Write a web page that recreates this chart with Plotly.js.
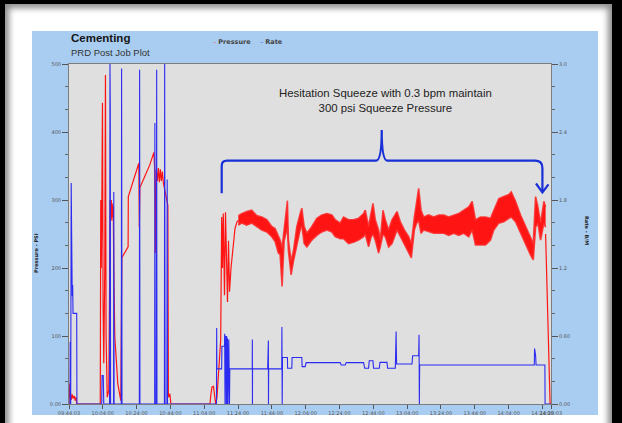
<!DOCTYPE html>
<html>
<head>
<meta charset="utf-8">
<script src="https://cdn.plot.ly/plotly-3.0.1.min.js"></script>
<style>
  html,body{margin:0;padding:0;background:#000;width:622px;height:423px;overflow:hidden;}
  .frame{position:absolute;left:5px;top:4px;width:607px;height:430px;background:#fff;box-shadow:inset 0 0 6px 4px #8c8c8c;}
  #chart{position:absolute;left:32px;top:31px;width:566px;height:384px;}
</style>
</head>
<body>
<div class="frame"></div>
<div id="chart"></div>
<script>
// ---- data (time = minutes after job start 09:44:03) ----
const jobStart = '09:44:03';
const xTickLabels = ['09:44:03','10:04:00','10:24:00','10:44:00','11:04:00','11:24:00','11:44:00','12:04:00','12:24:00','12:44:00','13:04:00','13:24:00','13:44:00','14:04:00','14:24:00','14:29:03'];
const pressureTicks = [0,100,200,300,400,500];
const pressureTickText = ['0.00','100','200','300','400','500'];
const rateTicks = [0,0.6,1.2,1.8,2.4,3.0];
const rateTickText = ['0.00','0.60','1.2','1.8','2.4','3.0'];

// pressure (psi) - single line parts
const pressureTime = [0,0.12,0.41,0.71,1.30,1.90,2.49,3.08,3.67,4.27,4.56,
 18.48,18.78,19.08,19.37,19.79,20.14,20.56,21.15,21.56,21.92,22.63,23.52,24.11,24.41,24.70,25.00,25.30,25.59,25.89,26.18,26.48,27.07,28.85,30.63,31.22,33.00,34.95,35.07,37.74,39.51,41.29,41.59,41.88,44.85,47.81,50.18,50.77,51.07,51.66,52.25,52.84,53.43,54.03,54.62,55.21,55.80,57.29,58.47,58.77,59.65,60.25,
 83.35,83.94,84.54,85.42,86.73,87.50,88.27,89.69,90.28,90.76,91.23,91.94,92.53,93.13,93.72,94.31,94.90,95.79,96.98,98.16,99.35,100.12,
 null,
 281.81,282.81,283.58,284.47,285];
const pressureValue = [0,30,8,20,6,14,8,12,5,10,0,
 0,300,200,280,443,150,60,200,484,100,10,20,250,300,275,300,270,295,275,290,200,100,30,5,215,222,231,305,325,340,354,260,318,335,352,370,340,222,345,328,347,326,345,328,342,325,308,292,10,15,0,
 0,15,25,26,0,10,35,94,275,200,280,160,282,180,150,240,165,200,235,258,268,270,
 null,
 250,150,50,0,0];

// pressure noisy squeeze band (upper / lower envelope, psi)
const bandTime = [100.12,102.13,105.09,108.05,111.02,113.98,116.94,119.90,121.86,123.81,124.82,126.00,127.19,128.37,129.14,129.74,130.74,131.34,132.70,134.71,136.67,137.67,139.04,140.64,143.60,146.56,149.52,152.48,155.45,157.40,160.36,162.32,165.28,168.24,171.20,174.17,175.17,177.13,178.55,179.73,181.10,183.05,184.06,185.66,187.02,188.98,190.99,193.95,195.91,198.28,200.83,202.42,204.20,205.39,206.75,208.17,209.71,212.67,215.63,218.60,221.56,224.52,227.48,230.44,233.41,236.37,238.38,240.34,243.30,246.26,249.22,251.18,254.14,257.10,260.07,261.49,264.03,267.00,269.96,272.92,274.52,275.88,277.24,278.84,280.80,281.81];
const bandHigh = [277,280,283,285,277,275,271,261,258,246,241,230,256,275,299,241,220,210,225,261,280,288,261,251,261,273,278,280,278,271,266,275,271,271,273,280,285,261,280,295,271,256,241,285,271,256,271,283,268,256,246,236,275,298,317,285,275,278,275,278,278,275,278,280,285,290,298,271,275,275,273,285,302,305,308,312,298,278,261,246,236,305,290,266,298,290];
const bandLow = [263,266,263,266,261,256,253,246,239,222,220,173,240,255,260,225,197,190,210,236,256,262,236,231,241,248,253,256,253,246,243,243,236,238,241,246,250,231,245,250,241,222,231,250,246,231,236,256,246,234,222,215,256,265,270,251,256,253,251,251,251,248,251,248,251,246,256,234,234,234,241,256,266,268,273,275,268,251,236,219,212,260,266,241,266,260];

// rate (bbl/min)
const rateTime = [0,0.59,0.71,0.83,1.01,1.30,1.60,1.90,2.19,2.37,4.56,4.68,
 19.37,19.55,20.26,20.56,
 23.99,24.23,24.41,24.58,
 26.36,26.48,26.66,
 30.92,31.10,31.34,
 41.59,41.76,41.94,
 50.65,50.77,50.95,
 51.66,51.83,52.01,
 56.40,56.57,56.81,
 57.88,58.06,58.23,
 87.20,87.32,87.44,90.28,90.40,91.94,92.06,92.24,92.41,92.59,92.83,93.01,93.24,93.42,93.72,94.01,94.49,94.90,95.08,
 108.35,108.41,108.47,108.53,
 117.47,117.53,117.65,117.89,117.95,118.07,
 125.77,125.89,126.06,126.24,
 129.14,129.26,131.75,131.93,137.67,137.85,139.63,140.22,160.36,160.95,163.32,163.92,174.17,174.88,177.13,177.54,179.73,180.09,183.47,183.88,188.03,188.38,192.94,193.42,193.54,193.72,202.83,203.19,206.75,206.98,207.16,207.34,275.11,275.29,275.88,276.18,281.39,281.50,285];
const rateValue = [0,0,0.55,0,0,1.95,1.0,0.95,1.05,0.8,0.8,0,
 0,0.25,0.25,0,
 0,3.0,2.6,0,
 0,1.87,0,
 0,2.96,0,
 0,2.95,0,
 0,2.48,0,
 0,2.95,0,
 0,3.0,0,
 0,1.98,0,
 0,0.67,0.31,0.31,0.51,0.51,0.62,0,0.60,0,0.59,0,0.60,0,0.58,0,0.57,0,0.31,
 0.31,0.57,0,0.31,
 0.31,0.42,0.31,0.56,0,0.31,
 0.31,0.68,0,0.41,
 0.41,0.315,0.315,0.41,0.41,0.33,0.33,0.365,0.365,0.344,0.344,0.365,0.365,0.315,0.315,0.382,0.382,0.315,0.315,0.367,0.367,0.315,0.315,0.64,0.49,0.353,0.353,0.426,0.426,0.61,0,0.344,0.344,0.49,0.43,0.344,0.344,0,0];

// ---- build ----
function toMin(s){const p=s.split(':').map(Number);return p[0]*60+p[1]+p[2]/60;}
const t0 = toMin(jobStart);
const xTickVals = xTickLabels.map(l => toMin(l) - t0);

const RED = '#ff1414', BLUE = '#2b2bf2';
const traces = [
  {x: bandTime, y: bandLow, type:'scatter', mode:'lines', line:{color:'rgba(255,40,40,0.85)', width:1.6}, hoverinfo:'skip', showlegend:false},
  {x: bandTime, y: bandHigh, type:'scatter', mode:'lines', fill:'tonexty', fillcolor:RED, line:{color:'rgba(255,40,40,0.85)', width:1.6}, name:'Pressure', showlegend:false},
  {x: pressureTime, y: pressureValue, type:'scatter', mode:'lines', line:{color:RED, width:1.2}, name:'Pressure', showlegend:false},
  {x: rateTime, y: rateValue, type:'scatter', mode:'lines', yaxis:'y2', line:{color:BLUE, width:1.1}, name:'Rate', showlegend:false}
];

// layout helpers: absolute picture px -> paper coords
const PL=69, PR=551, PT=64, PB=404;
const px = x => (x-PL)/(PR-PL);
const py = y => (PB-y)/(PB-PT);
const P = (x,y) => px(x).toFixed(4)+','+py(y).toFixed(4);
const bracePath = 'M'+P(221.7,193.3)+' L'+P(221.7,166)+' Q'+P(221.7,160.7)+' '+P(227,160.7)+
  ' L'+P(376,160.7)+' Q'+P(381.7,160.7)+' '+P(381.7,130)+' Q'+P(381.7,160.7)+' '+P(387.4,160.7)+
  ' L'+P(535,160.7)+' Q'+P(542.4,160.7)+' '+P(542.4,168)+' L'+P(542.4,192);
const arrowPath = 'M'+P(536,183.5)+' L'+P(542.4,192.3)+' L'+P(548.5,184.3);

const tickFont = {family:'DejaVu Sans, Verdana, sans-serif', size:5, color:'#555'};
const layout = {
  width:566, height:384,
  margin:{l:37, r:47, t:33, b:11, pad:0},
  paper_bgcolor:'#a9cdf1', plot_bgcolor:'#dfdfdf',
  showlegend:false,
  xaxis:{range:[0,285], tickmode:'array', tickvals:xTickVals, ticktext:xTickLabels, tickangle:0,
    ticks:'outside', ticklen:4, tickcolor:'#555', tickfont:tickFont, showline:true, linecolor:'#7d7d7d', linewidth:1,
    mirror:true, showgrid:false, zeroline:false, fixedrange:true},
  yaxis:{range:[0,500], tickmode:'array', tickvals:pressureTicks, ticktext:pressureTickText,
    ticks:'outside', ticklen:6, tickcolor:'#555', tickfont:tickFont, showline:true, linecolor:'#7d7d7d', linewidth:1,
    mirror:true, showgrid:false, zeroline:false,
    minor:{tickmode:'linear', tick0:0, dtick:100/3, ticks:'outside', ticklen:3, tickcolor:'#666', showgrid:false}},
  yaxis2:{range:[0,3], overlaying:'y', side:'right', tickmode:'array', tickvals:rateTicks, ticktext:rateTickText,
    ticks:'outside', ticklen:6, tickcolor:'#555', tickfont:tickFont, showline:true, linecolor:'#7d7d7d', linewidth:1,
    showgrid:false, zeroline:false,
    minor:{tickmode:'linear', tick0:0, dtick:0.2, ticks:'outside', ticklen:3, tickcolor:'#666', showgrid:false}},
  shapes:[
    {type:'path', xref:'paper', yref:'paper', path:bracePath, line:{color:'#1830d8', width:2.2}},
    {type:'path', xref:'paper', yref:'paper', path:arrowPath, line:{color:'#1830d8', width:2.2}}
  ],
  annotations:[
    {xref:'paper', yref:'paper', x:px(69), y:py(37.5), xanchor:'left', yanchor:'middle', showarrow:false,
      text:'<b>Cementing</b>', font:{family:'Liberation Sans, Arial, sans-serif', size:11.5, color:'#151515'}},
    {xref:'paper', yref:'paper', x:px(69), y:py(52.5), xanchor:'left', yanchor:'middle', showarrow:false,
      text:'PRD Post Job Plot', font:{family:'Liberation Sans, Arial, sans-serif', size:9.5, color:'#333'}},
    {xref:'paper', yref:'paper', x:px(211), y:py(42), xanchor:'left', yanchor:'middle', showarrow:false,
      text:'<span style="color:#f05050">–</span> <b>Pressure</b>', font:{family:'DejaVu Sans, Verdana, sans-serif', size:6.5, color:'#444'}},
    {xref:'paper', yref:'paper', x:px(258), y:py(42), xanchor:'left', yanchor:'middle', showarrow:false,
      text:'<span style="color:#5050f0">–</span> <b>Rate</b>', font:{family:'DejaVu Sans, Verdana, sans-serif', size:6.5, color:'#444'}},
    {xref:'paper', yref:'paper', x:px(36), y:py(253), xanchor:'center', yanchor:'middle', showarrow:false, textangle:-90,
      text:'<b>Pressure - PSI</b>', font:{family:'DejaVu Sans, Verdana, sans-serif', size:5, color:'#222'}},
    {xref:'paper', yref:'paper', x:px(587), y:py(230), xanchor:'center', yanchor:'middle', showarrow:false, textangle:90,
      text:'<b>Rate - B/M</b>', font:{family:'DejaVu Sans, Verdana, sans-serif', size:5, color:'#222'}},
    {xref:'paper', yref:'paper', x:px(385), y:py(100.5), xanchor:'center', yanchor:'middle', showarrow:false,
      text:'Hesitation Squeeze with 0.3 bpm maintain<br>300 psi Squeeze Pressure',
      font:{family:'Liberation Sans, Arial, sans-serif', size:11.4, color:'#222'}}
  ]
};
Plotly.newPlot('chart', traces, layout, {displayModeBar:false, staticPlot:true});
</script>
</body>
</html>
